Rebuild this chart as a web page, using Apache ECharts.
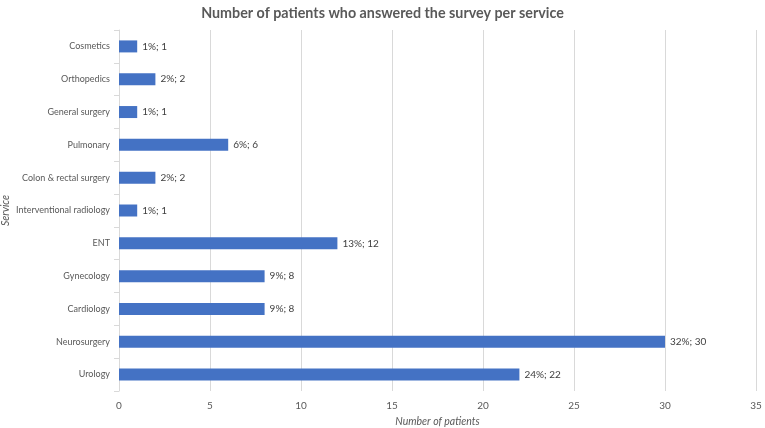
<!DOCTYPE html>
<html><head><meta charset="utf-8">
<script src="https://cdn.jsdelivr.net/npm/echarts@6/dist/echarts.min.js"></script>
<style>html,body{margin:0;padding:0;background:#fff}#c{width:765px;height:428px}</style>
</head><body><div id="c"></div>
<script>
const categories = ["Cosmetics","Orthopedics","General surgery","Pulmonary","Colon & rectal surgery","Interventional radiology","ENT","Gynecology","Cardiology","Neurosurgery","Urology"];
const patients = [1,2,1,6,2,1,12,8,8,30,22];
const percents = [1,2,1,6,2,1,13,9,9,32,24];
const xTicks = [0,5,10,15,20,25,30,35];

const font = "Lato, 'Open Sans', sans-serif";
const chart = echarts.init(document.getElementById('c'));
chart.setOption({
  animation:false,
  title:{text:"Number of patients who answered the survey per service",left:'center',top:1,
    textStyle:{fontFamily:font,fontSize:14.3,fontWeight:'bold',color:'#595959'}},
  grid:{left:119,right:9,top:30,bottom:37,containLabel:false,outerBoundsMode:'none'},
  xAxis:{type:'value',min:xTicks[0],max:xTicks[xTicks.length-1],interval:5,
    name:"Number of patients",nameLocation:'middle',nameGap:25,
    nameTextStyle:{fontFamily:font,fontSize:10.5,fontStyle:'italic',color:'#595959'},
    axisLine:{show:false},axisTick:{show:false},
    axisLabel:{fontFamily:font,fontSize:10,color:'#595959',margin:10},
    splitLine:{show:true,lineStyle:{color:'#d9d9d9',width:1}}},
  yAxis:{type:'category',data:categories,inverse:true,
    name:"Service",nameLocation:'middle',nameGap:108,nameMoveOverlap:false,
    nameTextStyle:{fontFamily:font,fontSize:10.5,fontStyle:'italic',color:'#595959'},
    axisLine:{show:true,lineStyle:{color:'#d9d9d9'}},
    axisTick:{show:true,length:5,lineStyle:{color:'#d9d9d9'}},
    axisLabel:{fontFamily:font,fontSize:9,color:'#595959',margin:9}},
  series:[{type:'bar',data:patients,barWidth:12,
    itemStyle:{color:'#4472c4'},
    label:{show:true,position:'right',distance:5,fontFamily:font,fontSize:10,color:'#404040',
      formatter:p=>percents[p.dataIndex]+'%; '+p.value}}]
});
</script></body></html>
